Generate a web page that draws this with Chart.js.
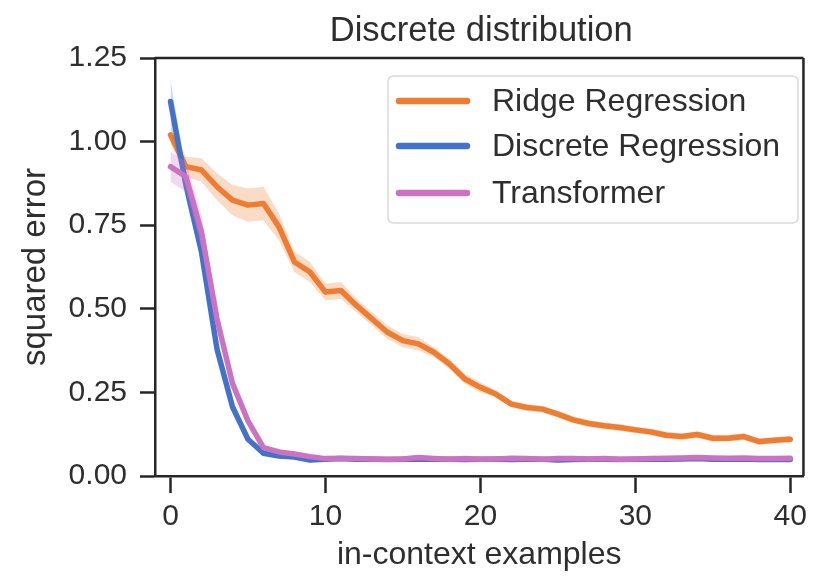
<!DOCTYPE html>
<html>
<head>
<meta charset="utf-8">
<script src="https://cdn.jsdelivr.net/npm/chart.js@4.4.0/dist/chart.umd.min.js"></script>
<style>
html,body{margin:0;padding:0;background:#fff;}
#wrap{width:813px;height:578px;}
</style>
</head>
<body>
<div id="wrap"><canvas id="c" width="813" height="578"></canvas></div>
<script>
// ---- data ----
const examples = [0,1,2,3,4,5,6,7,8,9,10,11,12,13,14,15,16,17,18,19,20,21,22,23,24,25,26,27,28,29,30,31,32,33,34,35,36,37,38,39,40];
const ridge = [1.02,0.925,0.915,0.865,0.825,0.81,0.815,0.745,0.64,0.61,0.55,0.555,0.51,0.47,0.43,0.405,0.395,0.37,0.335,0.29,0.265,0.245,0.215,0.205,0.2,0.185,0.168,0.157,0.15,0.145,0.138,0.132,0.122,0.118,0.124,0.113,0.113,0.118,0.103,0.107,0.11];
const ridgeCI = [0.025,0.03,0.035,0.04,0.045,0.05,0.05,0.04,0.03,0.03,0.025,0.025,0.02,0.02,0.02,0.02,0.02,0.015,0.015,0.015,0.015,0.01,0.01,0.01,0.01,0.01,0.01,0.01,0.01,0.01,0.01,0.01,0.01,0.01,0.01,0.01,0.01,0.01,0.01,0.01,0.01];
const discrete = [1.12,0.87,0.67,0.38,0.207,0.11,0.068,0.06,0.057,0.048,0.05,0.052,0.05,0.05,0.049,0.05,0.051,0.05,0.05,0.049,0.05,0.05,0.049,0.05,0.05,0.048,0.049,0.05,0.05,0.049,0.05,0.05,0.05,0.051,0.052,0.05,0.05,0.051,0.049,0.049,0.049];
const discreteCI = [0.065,0.04,0.03,0.025,0.015,0.008,0.004,0.004,0.004,0.004,0.004,0.004,0.004,0.004,0.004,0.004,0.004,0.004,0.004,0.004,0.004,0.004,0.004,0.004,0.004,0.004,0.004,0.004,0.004,0.004,0.004,0.004,0.004,0.004,0.004,0.004,0.004,0.004,0.004,0.004,0.004];
const transformer = [0.925,0.895,0.73,0.47,0.277,0.165,0.085,0.072,0.066,0.058,0.052,0.053,0.052,0.051,0.05,0.051,0.055,0.052,0.05,0.052,0.05,0.051,0.053,0.052,0.05,0.052,0.052,0.051,0.052,0.05,0.051,0.052,0.053,0.054,0.055,0.054,0.053,0.054,0.052,0.052,0.053];
const transformerCI = [0.045,0.045,0.05,0.03,0.02,0.01,0.005,0.005,0.005,0.005,0.005,0.005,0.005,0.005,0.005,0.005,0.005,0.005,0.005,0.005,0.005,0.005,0.005,0.005,0.005,0.005,0.005,0.005,0.005,0.005,0.005,0.005,0.005,0.005,0.005,0.005,0.005,0.005,0.005,0.005,0.005];
const xTicks = [0,10,20,30,40];
const yTicks = [0,0.25,0.5,0.75,1.0,1.25];
const seriesNames = ['Ridge Regression','Discrete Regression','Transformer'];
const seriesColors = ['#ee7d32','#4472c9','#cc72c2'];
const bandColors = ['rgba(238,125,50,0.28)','rgba(68,114,201,0.25)','rgba(204,114,194,0.28)'];
const titleText = 'Discrete distribution';
const xLabel = 'in-context examples';
const yLabel = 'squared error';

const TXT = '#2e2e2e';
const FONT = "'Liberation Sans', Arial, sans-serif";

function pts(vals, ci, sign){
  return examples.map((x,i)=>({x:x, y: vals[i] + sign*(ci ? ci[i] : 0)}));
}

const allSeries = [[ridge,ridgeCI],[discrete,discreteCI],[transformer,transformerCI]];
const datasets = [];
allSeries.forEach((s,k)=>{
  const ord = 10 - k*3; // later series drawn on top
  datasets.push({label:'_u'+k, data:pts(s[0],s[1],1), borderWidth:0, pointRadius:0, fill:false, order:ord+2, borderColor:'rgba(0,0,0,0)'});
  datasets.push({label:'_l'+k, data:pts(s[0],s[1],-1), borderWidth:0, pointRadius:0, fill:'-1', backgroundColor:bandColors[k], order:ord+1, borderColor:'rgba(0,0,0,0)'});
  datasets.push({label:seriesNames[k], data:pts(s[0],null,0), borderColor:seriesColors[k], borderWidth:5.5, pointRadius:0, fill:false, order:ord, borderCapStyle:'round', borderJoinStyle:'round'});
});

const framePlugin = {
  id:'frame',
  afterDraw(chart){
    const {ctx, chartArea:a} = chart;
    ctx.save();
    ctx.strokeStyle = '#262626';
    ctx.lineWidth = 2.5;
    ctx.beginPath();
    ctx.moveTo(a.left, a.top); ctx.lineTo(a.right, a.top);
    ctx.moveTo(a.right, a.top); ctx.lineTo(a.right, a.bottom);
    ctx.stroke();
    // title
    ctx.fillStyle = TXT;
    ctx.font = "34.5px " + FONT;
    ctx.textAlign = 'center';
    ctx.textBaseline = 'middle';
    ctx.fillText(titleText, (a.left+a.right)/2 + 2, 31);
    // legend
    const lx = 388, ly = 76, lw = 410, lh = 147, r = 6;
    ctx.fillStyle = 'rgba(255,255,255,0.85)';
    ctx.strokeStyle = '#d9d9d9';
    ctx.lineWidth = 1.5;
    ctx.beginPath();
    ctx.moveTo(lx+r, ly); ctx.lineTo(lx+lw-r, ly); ctx.quadraticCurveTo(lx+lw, ly, lx+lw, ly+r);
    ctx.lineTo(lx+lw, ly+lh-r); ctx.quadraticCurveTo(lx+lw, ly+lh, lx+lw-r, ly+lh);
    ctx.lineTo(lx+r, ly+lh); ctx.quadraticCurveTo(lx, ly+lh, lx, ly+lh-r);
    ctx.lineTo(lx, ly+r); ctx.quadraticCurveTo(lx, ly, lx+r, ly);
    ctx.closePath(); ctx.fill(); ctx.stroke();
    const rows = [101,146,193];
    ctx.font = "32px " + FONT;
    ctx.textAlign = 'left';
    ctx.textBaseline = 'middle';
    seriesNames.forEach((n,i)=>{
      ctx.strokeStyle = seriesColors[i];
      ctx.lineWidth = 6.5;
      ctx.lineCap = 'round';
      ctx.beginPath(); ctx.moveTo(399, rows[i]); ctx.lineTo(467, rows[i]); ctx.stroke();
      ctx.fillStyle = TXT;
      ctx.fillText(n, 492, rows[i]+1);
    });
    ctx.restore();
  }
};

new Chart(document.getElementById('c'), {
  type:'line',
  data:{datasets:datasets},
  plugins:[framePlugin],
  options:{
    responsive:false,
    animation:false,
    layout:{padding:{top:58, right:2, left:0, bottom:0}},
    plugins:{legend:{display:false}, tooltip:{enabled:false}, title:{display:false}},
    scales:{
      x:{
        type:'linear', min:-1, max:40.85,
        afterBuildTicks(s){ s.ticks = xTicks.map(v=>({value:v})); },
        afterFit(s){ s.height = 102; },
        grid:{drawOnChartArea:false, drawTicks:true, tickLength:17, tickWidth:2.5, tickColor:'#262626'},
        border:{display:true, color:'#262626', width:2.5},
        ticks:{color:TXT, font:{size:30, family:FONT}, padding:6, maxRotation:0, callback:v=>String(v)},
        title:{display:true, text:xLabel, color:TXT, font:{size:32, family:FONT}, padding:{top:0,bottom:4}}
      },
      y:{
        type:'linear', min:0, max:1.25,
        afterBuildTicks(s){ s.ticks = yTicks.map(v=>({value:v})); },
        afterFit(s){ s.width = 155; },
        grid:{drawOnChartArea:false, drawTicks:true, tickLength:15, tickWidth:2.5, tickColor:'#262626'},
        border:{display:true, color:'#262626', width:2.5},
        ticks:{color:TXT, font:{size:30, family:FONT}, padding:13, callback:v=>v.toFixed(2)},
        title:{display:true, text:yLabel, color:TXT, font:{size:33, family:FONT}, padding:{top:16,bottom:0}}
      }
    }
  }
});
</script>
</body>
</html>
